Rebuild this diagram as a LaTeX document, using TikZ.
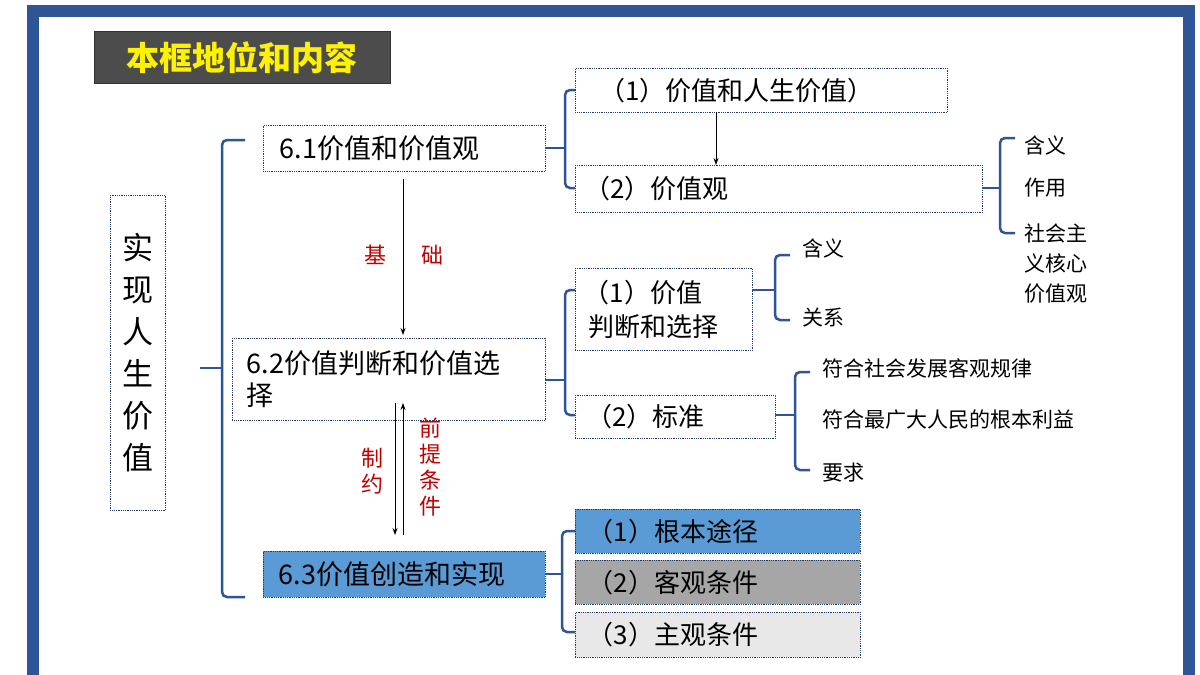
\documentclass[tikz,border=0pt]{standalone}
\usepackage{fontspec}
\setmainfont{Noto Sans CJK SC}
\usetikzlibrary{arrows.meta}
\definecolor{frameblue}{HTML}{2F5597}
\definecolor{boxblue}{HTML}{5B9BD5}
\definecolor{dred}{HTML}{C00000}
\tikzset{
  bx/.style={draw=frameblue!70!black, densely dotted, line width=0.8pt, inner sep=0pt, anchor=north west, text=black},
  brk/.style={draw=frameblue, line width=2.5pt, rounded corners=5pt},
  lab/.style={font=\fontsize{21}{25}\selectfont, text=black, anchor=west, inner sep=0pt},
  arr/.style={-{Stealth[length=7pt,width=5pt]}, line width=0.8pt},
  rl/.style={font=\fontsize{22}{26}\selectfont, text=dred, inner sep=0pt}
}
\newcommand\mybrk[6]{\draw[brk] (#3,#4) -- (#2,#4) -- (#2,#6) -- (#3,#6); \draw[brk] (#1,#5) -- (#2,#5);}
\begin{document}
\begin{tikzpicture}[x=1pt,y=-1pt]
\useasboundingbox (0,0) rectangle (1200,675);
\fill[white] (0,0) rectangle (1200,675);
% frame
\fill[frameblue] (27,5) rectangle (1195,17);
\fill[frameblue] (27,5) rectangle (39,675);
\fill[frameblue] (1183,5) rectangle (1195,675);
% title
\node[fill=black!70, draw=black!80, minimum width=296pt, minimum height=52pt, anchor=north west, inner sep=0pt, text=yellow, font=\fontsize{33}{36}\selectfont\bfseries] (title) at (94,31) {本框地位和内容};
% left vertical box
\node[bx, minimum width=55pt, minimum height=315pt, align=center, font=\fontsize{31}{42}\selectfont] (main) at (110,195) {实\\现\\人\\生\\价\\值};
\mybrk{200}{222}{245}{140}{368}{597}
% level 1
\node[bx, minimum width=282pt, minimum height=46pt, font=\fontsize{27}{32}\selectfont] (n61) at (263,125) {\hspace*{-50pt}6.1价值和价值观};
\node[bx, minimum width=313pt, minimum height=82pt, font=\fontsize{27}{32}\selectfont, align=left, text width=300pt] (n62) at (232,338) {\hspace*{8pt}6.2价值判断和价值选\\\hspace*{8pt}择};
\node[bx, fill=boxblue, minimum width=282pt, minimum height=46pt, font=\fontsize{27}{32}\selectfont] (n63) at (263,551) {\hspace*{-25pt}6.3价值创造和实现};
% arrows between
\draw[arr] (n61.south -| 403,0) ++(0,7) -- (403,335);
\node[rl] (ji) at (375,255) {基};
\node[rl] (chu) at (432,255) {础};
\draw[arr] (395,403) -- (395,535);
\draw[arr] (403,535) -- (403,403);
\node[rl, align=center] (zy) at (372,471) {制\\约};
\node[rl, align=center] (qt) at (430,467) {前\\提\\条\\件};
% 6.1 branch
\mybrk{545}{565}{575}{90}{148}{188}
\node[bx, minimum width=372pt, minimum height=44pt, font=\fontsize{26}{30}\selectfont] (a1) at (575,68) {\hspace*{-50pt}（1）价值和人生价值）};
\node[bx, minimum width=407pt, minimum height=47pt, font=\fontsize{26}{30}\selectfont] (a2) at (575,165) {\hspace*{-245pt}（2）价值观};
\draw[arr] (716,112) -- (716,165);
\mybrk{982}{1000}{1015}{138}{188}{233}
\node[lab] (a21) at (1024,145) {含义};
\node[lab] (a22) at (1024,188) {作用};
\node[lab, align=left, font=\fontsize{21}{30}\selectfont] (a23) at (1024,264) {社会主\\义核心\\价值观};
% 6.2 branch
\mybrk{545}{565}{575}{290}{380}{415}
\node[bx, minimum width=177pt, minimum height=82pt, font=\fontsize{26}{34}\selectfont, align=left, text width=170pt] (b1) at (575,268) {\hspace*{5pt}（1）价值\\\hspace*{10pt}判断和选择};
\node[bx, minimum width=200pt, minimum height=43pt, font=\fontsize{26}{30}\selectfont] (b2) at (575,395) {\hspace*{-60pt}（2）标准};
\mybrk{752}{775}{790}{255}{290}{320}
\node[lab] (b11) at (802,248) {含义};
\node[lab] (b12) at (802,318) {关系};
\mybrk{775}{795}{810}{372}{415}{470}
\node[lab] (b21) at (822,368) {符合社会发展客观规律};
\node[lab] (b22) at (822,420) {符合最广大人民的根本利益};
\node[lab] (b23) at (822,473) {要求};
% 6.3 branch
\mybrk{545}{562}{575}{531}{574}{632}
\node[bx, fill=boxblue, minimum width=285pt, minimum height=44pt, font=\fontsize{26}{30}\selectfont] (c1) at (575,509) {\hspace*{-90pt}（1）根本途径};
\node[bx, fill=black!35, minimum width=285pt, minimum height=44pt, font=\fontsize{26}{30}\selectfont] (c2) at (575,560) {\hspace*{-90pt}（2）客观条件};
\node[bx, fill=black!9, minimum width=285pt, minimum height=45pt, font=\fontsize{26}{30}\selectfont] (c3) at (575,612) {\hspace*{-90pt}（3）主观条件};
\end{tikzpicture}
\end{document}
